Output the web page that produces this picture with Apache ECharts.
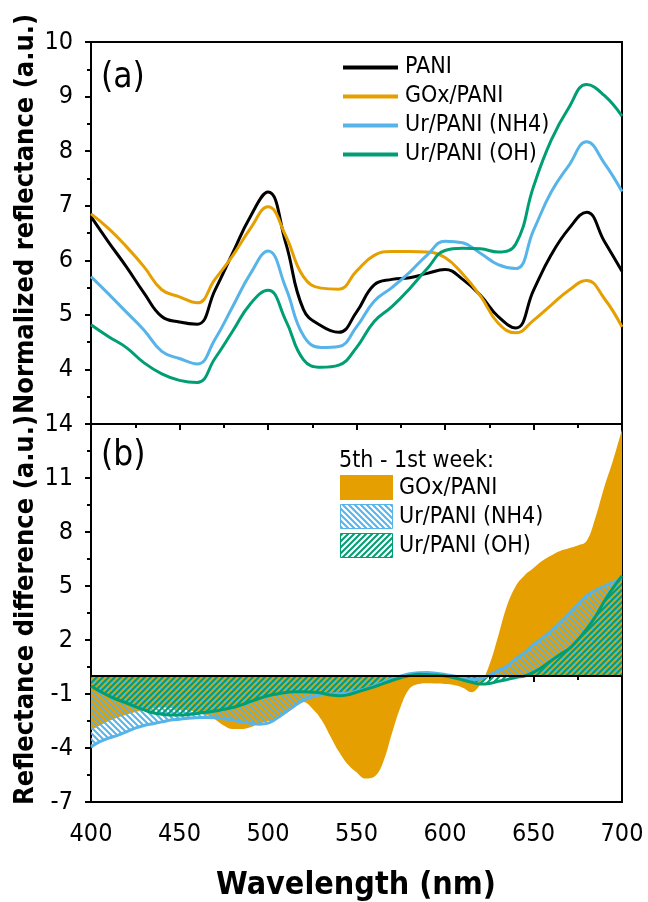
<!DOCTYPE html>
<html>
<head>
<meta charset="utf-8">
<script src="https://cdn.jsdelivr.net/npm/echarts@6/dist/echarts.min.js"></script>
<style>
  html, body { margin: 0; padding: 0; background: #fff; }
  #chart { width: 648px; height: 902px; }
</style>
</head>
<body>
<div id="chart"></div>
<script>
// panel (a): normalized reflectance, 10 nm steps
const wlA = [400, 410, 420, 430, 440, 450, 460, 470, 480, 490, 500, 510, 520, 530, 540, 550,
  560, 570, 580, 590, 600, 610, 620, 630, 640, 650, 660, 670, 680, 690, 700];
const pani = [6.80, 6.33, 5.88, 5.40, 4.97, 4.87, 4.83, 5.45, 6.13, 6.80, 7.25, 6.32, 5.10, 4.80, 4.68, 5.05,
  5.55, 5.65, 5.68, 5.76, 5.83, 5.65, 5.36, 4.97, 4.76, 5.45, 6.10, 6.58, 6.88, 6.35, 5.80];
const goxPani = [6.85, 6.58, 6.25, 5.88, 5.46, 5.33, 5.22, 5.65, 6.08, 6.58, 6.98, 6.45, 5.70, 5.49, 5.47, 5.80,
  6.09, 6.16, 6.16, 6.15, 6.05, 5.75, 5.35, 4.85, 4.67, 4.90, 5.18, 5.45, 5.63, 5.30, 4.78];
const urNH4 = [5.70, 5.38, 5.05, 4.72, 4.33, 4.20, 4.10, 4.55, 5.15, 5.75, 6.17, 5.50, 4.62, 4.40, 4.42, 4.78,
  5.25, 5.50, 5.78, 6.10, 6.35, 6.32, 6.13, 5.92, 5.85, 6.55, 7.25, 7.74, 8.17, 7.78, 7.26];
const urOH = [4.82, 4.60, 4.40, 4.12, 3.92, 3.80, 3.76, 4.20, 4.70, 5.20, 5.45, 4.90, 4.18, 4.04, 4.08, 4.40,
  4.88, 5.15, 5.48, 5.85, 6.18, 6.22, 6.21, 6.15, 6.30, 7.35, 8.20, 8.80, 9.22, 9.02, 8.64];

// panel (b): 5th - 1st week difference, 5 nm steps
const wlB = [400, 405, 410, 415, 420, 425, 430, 435, 440, 445, 450, 455, 460, 465, 470, 475, 480, 485, 490, 495,
  500, 505, 510, 515, 520, 525, 530, 535, 540, 545, 550, 555, 560, 565, 570, 575, 580, 585, 590, 595,
  600, 605, 610, 615, 620, 625, 630, 635, 640, 645, 650, 655, 660, 665, 670, 675, 680, 685, 690, 695, 700];
const diffGOx = [-3.0, -2.75, -2.5, -2.3, -2.15, -2.0, -1.9, -1.8, -1.75, -1.78, -1.85, -1.9, -2.0, -2.15, -2.4, -2.75, -2.95, -2.95, -2.85, -2.65,
  -2.5, -2.4, -2.1, -1.75, -1.45, -1.8, -2.4, -3.3, -4.2, -4.9, -5.35, -5.7, -5.6, -4.8, -3.2, -1.7, -0.7, -0.45, -0.4, -0.42,
  -0.45, -0.5, -0.65, -0.9, -0.45, 0.6, 2.2, 3.9, 5.0, 5.6, 6.0, 6.4, 6.7, 6.95, 7.1, 7.25, 7.5, 8.8, 10.5, 12.0, 13.7];
const diffNH4 = [-3.94, -3.65, -3.45, -3.3, -3.1, -2.9, -2.75, -2.65, -2.55, -2.45, -2.4, -2.35, -2.32, -2.3, -2.32, -2.38, -2.45, -2.55, -2.62, -2.68,
  -2.62, -2.35, -2.0, -1.65, -1.35, -1.15, -1.05, -1.0, -0.98, -0.95, -0.85, -0.7, -0.55, -0.35, -0.15, 0.0, 0.12, 0.18, 0.2, 0.15,
  0.08, 0.0, -0.12, -0.2, -0.15, 0.05, 0.3, 0.55, 0.95, 1.3, 1.75, 2.1, 2.5, 2.95, 3.45, 3.95, 4.45, 4.75, 5.0, 5.2, 5.45];
const diffOH = [-0.55, -0.85, -1.1, -1.32, -1.5, -1.7, -1.88, -2.04, -2.12, -2.16, -2.17, -2.14, -2.08, -2.02, -1.95, -1.85, -1.75, -1.6, -1.42, -1.25,
  -1.1, -1.0, -0.92, -0.88, -0.87, -0.9, -0.95, -1.05, -1.1, -1.05, -0.9, -0.75, -0.6, -0.42, -0.25, -0.1, 0.03, 0.1, 0.08, 0.05,
  0.0, -0.1, -0.22, -0.35, -0.45, -0.42, -0.3, -0.2, -0.08, 0.0, 0.2, 0.5, 0.85, 1.2, 1.5, 2.0, 2.6, 3.3, 4.15, 4.9, 5.56];

const diffTicks = [-7, -4, -1, 2, 5, 8, 11, 14];
const diffMinorTicks = [-5.5, -2.5, 0.5, 3.5, 6.5, 9.5, 12.5];

const namesA = ['PANI', 'GOx/PANI', 'Ur/PANI (NH4)', 'Ur/PANI (OH)'];
const namesB = ['GOx/PANI', 'Ur/PANI (NH4)', 'Ur/PANI (OH)'];

const BLACK = '#000000', ORANGE = '#E69F00', BLUE = '#56B4E9', GREEN = '#009E73';
const FONT = '"DejaVu Sans Condensed", "DejaVu Sans", sans-serif';

function pairs(xs, ys) {
  return xs.map((x, i) => [x, ys[i]]);
}

// diagonal hatch tile, dir 1 = '/', -1 = '\'
function hatch(color, dir) {
  const c = document.createElement('canvas');
  c.width = 6; c.height = 6;
  const ctx = c.getContext('2d');
  ctx.strokeStyle = color;
  ctx.lineWidth = 2;
  ctx.beginPath();
  if (dir > 0) {
    ctx.moveTo(-1, 7); ctx.lineTo(7, -1);
    ctx.moveTo(-4, 4); ctx.lineTo(4, -4);
    ctx.moveTo(2, 10); ctx.lineTo(10, 2);
  } else {
    ctx.moveTo(-1, -1); ctx.lineTo(7, 7);
    ctx.moveTo(-4, 2); ctx.lineTo(4, 10);
    ctx.moveTo(2, -4); ctx.lineTo(10, 4);
  }
  ctx.stroke();
  return c;
}

const hatchNH4 = { image: hatch(BLUE, -1), repeat: 'repeat' };
const hatchOH = { image: hatch(GREEN, 1), repeat: 'repeat' };

const chart = echarts.init(document.getElementById('chart'), null, { renderer: 'canvas' });

const axisCommon = {
  axisLine: { lineStyle: { color: '#000', width: 2 } },
  axisTick: { inside: false, length: 6, lineStyle: { color: '#000', width: 2 } },
  minorTick: { show: true, splitNumber: 2, length: 4, lineStyle: { color: '#000', width: 2 } },
  splitLine: { show: false },
  axisLabel: { color: '#000', fontSize: 25, fontFamily: FONT, margin: 18 }
};

const lineA = (name, data, color) => ({
  name: name,
  type: 'line',
  xAxisIndex: 0,
  yAxisIndex: 0,
  data: pairs(wlA, data),
  smooth: 0.45,
  symbol: 'none',
  lineStyle: { color: color, width: 3 },
  itemStyle: { color: color }
});

const option = {
  backgroundColor: '#fff',
  animation: false,
  grid: [
    { left: 91, right: 26, top: 42, height: 382, show: true, borderColor: '#000', borderWidth: 2 },
    { left: 91, right: 26, top: 424, height: 378, show: true, borderColor: '#000', borderWidth: 2 }
  ],
  xAxis: [
    Object.assign({}, axisCommon, {
      gridIndex: 0, type: 'value', min: 400, max: 700, interval: 50,
      axisLabel: { show: false }
    }),
    Object.assign({}, axisCommon, {
      gridIndex: 1, type: 'value', min: 400, max: 700, interval: 50,
      axisLabel: Object.assign({}, axisCommon.axisLabel, { margin: 20 })
    })
  ],
  yAxis: [
    Object.assign({}, axisCommon, {
      gridIndex: 0, type: 'value', min: 3, max: 10, interval: 1,
      axisLabel: Object.assign({}, axisCommon.axisLabel, {
        formatter: v => (v === 3 ? '' : String(v))
      })
    }),
    Object.assign({}, axisCommon, {
      gridIndex: 1, type: 'value', min: -7, max: 14,
      minorTick: { show: false },
      axisTick: Object.assign({}, axisCommon.axisTick, { customValues: diffTicks }),
      axisLabel: Object.assign({}, axisCommon.axisLabel, { customValues: diffTicks })
    }),
    {
      gridIndex: 1, type: 'value', min: -7, max: 14, position: 'left',
      axisLine: { show: false },
      axisLabel: { show: false },
      splitLine: { show: false },
      axisTick: { show: true, length: 4, customValues: diffMinorTicks, lineStyle: { color: '#000', width: 2 } }
    }
  ],
  legend: {
    data: namesA,
    orient: 'vertical',
    left: 338,
    top: 51,
    icon: 'rect',
    itemWidth: 55,
    itemHeight: 4,
    itemGap: 6,
    textStyle: { color: '#000', fontSize: 23, lineHeight: 23, fontFamily: FONT, padding: [0, 0, 0, 2] },
    selectedMode: false
  },
  series: [
    lineA(namesA[0], pani, BLACK),
    lineA(namesA[1], goxPani, ORANGE),
    lineA(namesA[2], urNH4, BLUE),
    lineA(namesA[3], urOH, GREEN),
    {
      name: namesB[0] + ' diff',
      type: 'line',
      xAxisIndex: 1,
      yAxisIndex: 1,
      data: pairs(wlB, diffGOx),
      smooth: 0.4,
      symbol: 'none',
      lineStyle: { width: 0 },
      areaStyle: { color: ORANGE, opacity: 1 }
    },
    {
      name: namesB[1] + ' diff',
      type: 'line',
      xAxisIndex: 1,
      yAxisIndex: 1,
      data: pairs(wlB, diffNH4),
      smooth: 0.4,
      symbol: 'none',
      lineStyle: { color: BLUE, width: 3 },
      areaStyle: { color: hatchNH4, opacity: 1 }
    },
    {
      name: namesB[2] + ' diff',
      type: 'line',
      xAxisIndex: 1,
      yAxisIndex: 1,
      data: pairs(wlB, diffOH),
      smooth: 0.4,
      symbol: 'none',
      lineStyle: { color: GREEN, width: 3 },
      areaStyle: { color: hatchOH, opacity: 1 },
      markLine: {
        silent: true,
        symbol: 'none',
        label: { show: false },
        lineStyle: { color: '#000', width: 2, type: 'solid' },
        data: [{ yAxis: 0 }]
      }
    }
  ],
  graphic: [
    { type: 'text', x: 26, y: 214, rotation: Math.PI / 2,
      style: { text: 'Normalized reflectance (a.u.)', font: 'bold 27px ' + FONT, fill: '#000', align: 'center', verticalAlign: 'middle' } },
    { type: 'text', x: 26, y: 610, rotation: Math.PI / 2,
      style: { text: 'Reflectance difference (a.u.)', font: 'bold 27px ' + FONT, fill: '#000', align: 'center', verticalAlign: 'middle' } },
    { type: 'text', x: 356, y: 886,
      style: { text: 'Wavelength (nm)', font: 'bold 32px ' + FONT, fill: '#000', align: 'center', verticalAlign: 'middle' } },
    { type: 'text', x: 101, y: 78,
      style: { text: '(a)', font: '35px ' + FONT, fill: '#000', align: 'left', verticalAlign: 'middle' } },
    { type: 'text', x: 101, y: 456,
      style: { text: '(b)', font: '35px ' + FONT, fill: '#000', align: 'left', verticalAlign: 'middle' } },
    // legend of panel (b)
    { type: 'text', x: 339, y: 461,
      style: { text: '5th - 1st week:', font: '23px ' + FONT, fill: '#000', align: 'left', verticalAlign: 'middle' } },
    { type: 'rect', shape: { x: 340, y: 475, width: 53, height: 25 }, style: { fill: ORANGE } },
    { type: 'rect', shape: { x: 340.5, y: 504.5, width: 52, height: 24 }, style: { fill: hatchNH4, stroke: BLUE, lineWidth: 1 } },
    { type: 'rect', shape: { x: 340.5, y: 533.5, width: 52, height: 24 }, style: { fill: hatchOH, stroke: GREEN, lineWidth: 1 } },
    { type: 'text', x: 399, y: 488,
      style: { text: namesB[0], font: '23px ' + FONT, fill: '#000', align: 'left', verticalAlign: 'middle' } },
    { type: 'text', x: 399, y: 517,
      style: { text: namesB[1], font: '23px ' + FONT, fill: '#000', align: 'left', verticalAlign: 'middle' } },
    { type: 'text', x: 399, y: 546,
      style: { text: namesB[2], font: '23px ' + FONT, fill: '#000', align: 'left', verticalAlign: 'middle' } }
  ]
};

chart.setOption(option);
</script>
</body>
</html>
